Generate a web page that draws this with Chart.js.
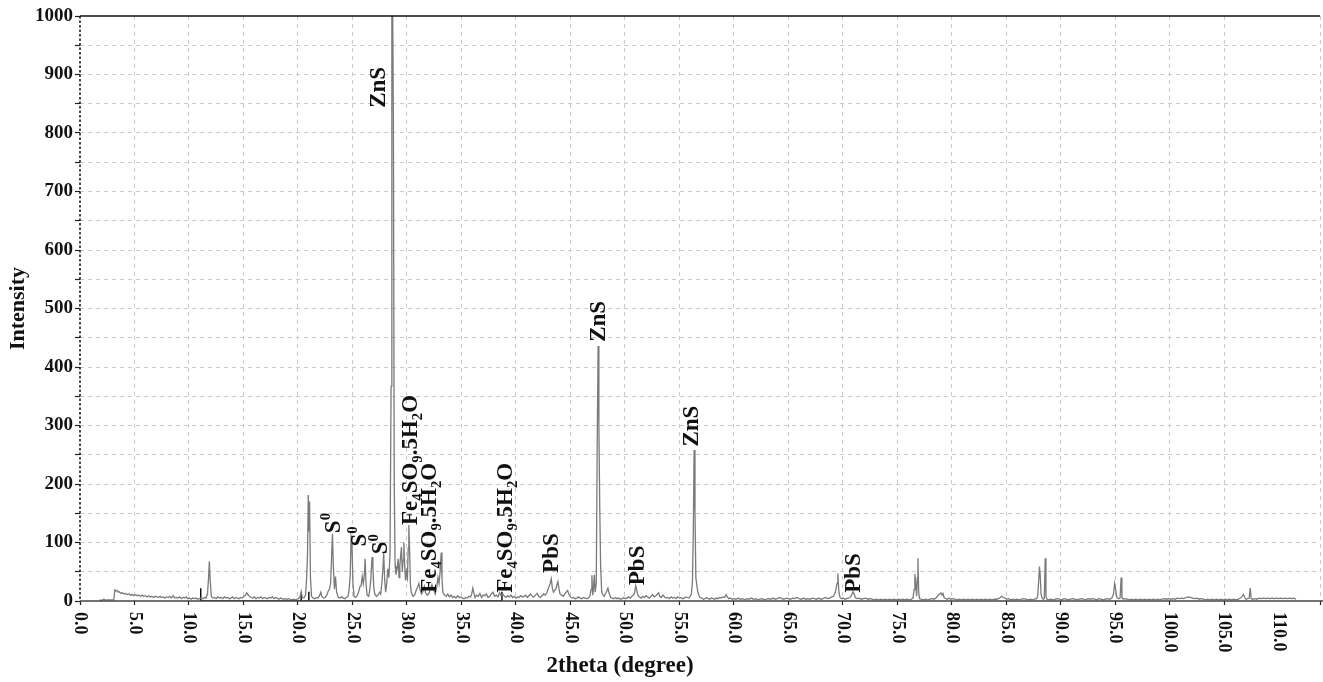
<!DOCTYPE html>
<html>
<head>
<meta charset="utf-8">
<title>XRD pattern</title>
<script src="https://cdn.jsdelivr.net/npm/chart.js@4/dist/chart.umd.min.js"></script>
<style>
  html, body { margin: 0; padding: 0; background: #ffffff; }
  canvas { display: block; }
</style>
</head>
<body>
<canvas id="xrd" width="1323" height="682"></canvas>
<script>
// Diffraction scan, [2theta (degree), intensity] pairs, split by angular range
const scanLowAngle = [
  [1.8,2],[2.0,1],[2.2,3],[2.4,1],[2.5,2],[3.1,2],
  [3.2,19],[3.3,17],[3.4,18],[3.5,15],[3.6,16],[3.75,13],[3.9,14],[4.05,12],[4.2,13],[4.35,11],
  [4.5,12],[4.65,10],[4.8,11],[4.95,9],[5.1,11],[5.25,9],[5.4,10],[5.55,8],[5.7,10],[5.85,8],
  [6.0,9],[6.15,7],[6.3,9],[6.45,7],[6.6,8],[6.75,6],[6.9,8],[7.05,7],[7.2,6],[7.35,8],[7.5,6],
  [7.65,7],[7.8,5],[7.95,7],[8.1,6],[8.25,8],[8.4,5],[8.55,9],[8.7,5],[8.85,6],[9.0,5],[9.15,7],
  [9.3,4],[9.45,6],[9.6,5],[9.75,7],[9.9,4],[10.05,5],[10.2,3],[10.35,5],[10.5,4],[10.65,5],
  [10.8,3],[10.95,4],[11.1,5],[11.25,4],[11.4,6],[11.55,5],[11.7,12],[11.8,40],[11.87,68],
  [11.95,35],[12.05,8],[12.2,5],[12.35,6],[12.5,4],[12.65,7],[12.8,5],[12.95,6],[13.1,4],
  [13.25,7],[13.4,5],[13.55,6],[13.7,4],[13.85,5],[14.0,7],[14.15,4],[14.3,6],[14.45,5],[14.6,4],
  [14.75,6],[14.9,5],[15.05,8],[15.2,10],[15.3,14],[15.4,11],[15.55,8],[15.7,6],[15.85,5],[16.0,7],
  [16.15,4],[16.3,6],[16.45,5],[16.6,7],[16.75,4],[16.9,6],[17.05,5],[17.2,4],[17.35,6],[17.5,5],
  [17.65,7],[17.8,4],[17.95,6],[18.1,5],[18.25,3],[18.4,5],[18.55,4],[18.7,3],[18.85,4],[19.0,3],
  [19.15,4],[19.3,3],[19.45,2],[19.6,3],[19.75,2],[19.9,3],[20.05,4],[20.2,8],[20.3,16],[20.4,6],
  [20.55,5],[20.7,10]
];

const scanSulfurRegion = [
  [20.8,40],[20.88,80],[20.95,181],[21.02,120],[21.07,170],[21.15,40],[21.25,8],[21.4,5],[21.55,4],
  [21.7,6],[21.85,5],[22.0,10],[22.1,15],[22.2,8],[22.35,5],[22.5,6],[22.65,10],[22.8,18],[22.9,20],
  [23.0,30],[23.1,80],[23.17,115],[23.25,60],[23.35,20],[23.45,42],[23.55,15],[23.7,6],[23.85,5],
  [24.0,7],[24.15,5],[24.3,4],[24.45,6],[24.6,8],[24.7,20],[24.8,45],[24.88,110],[24.95,105],
  [25.05,30],[25.15,8],[25.3,6],[25.45,9],[25.6,18],[25.7,25],[25.8,26],[25.9,42],[26.0,30],
  [26.1,45],[26.17,72],[26.25,30],[26.35,10],[26.5,8],[26.6,20],[26.7,40],[26.8,75],[26.88,60],
  [26.95,25],[27.05,12],[27.2,8],[27.35,10],[27.5,15],[27.6,12],[27.7,30],[27.8,55],[27.87,83],
  [27.95,40],[28.05,15],[28.15,30],[28.25,55],[28.35,40],[28.45,80],[28.55,367],[28.62,1000],
  [28.7,1000],[28.76,826],[28.84,200],[28.92,60],[29.0,45],[29.1,55],[29.2,72],[29.28,40],
  [29.35,60],[29.42,75],[29.5,92],[29.58,50],[29.65,70],[29.72,100],[29.8,60],[29.88,35],
  [29.95,50],[30.05,40],[30.12,90],[30.18,130],[30.25,85],[30.32,30],[30.4,15],[30.55,8],
  [30.7,10],[30.85,18],[31.0,25],[31.1,30],[31.2,20],[31.35,12],[31.5,18],[31.6,25],[31.7,15],
  [31.85,10],[32.0,12],[32.15,20],[32.3,28],[32.45,20],[32.6,12],[32.75,25],[32.85,40],[32.95,30],
  [33.05,50],[33.15,83],[33.22,40],[33.3,15],[33.45,10],[33.6,8],[33.75,12],[33.9,7],[34.05,10],
  [34.2,6],[34.35,8],[34.5,5],[34.65,9],[34.8,6],[34.95,7]
];

const scanMidAngle = [
  [35.1,5],[35.25,4],[35.4,6],[35.55,5],[35.7,8],[35.85,7],[35.95,12],[36.05,22],[36.15,14],
  [36.25,6],[36.4,10],[36.55,8],[36.7,13],[36.85,6],[37.0,10],[37.15,9],[37.3,12],[37.45,6],
  [37.6,8],[37.75,12],[37.9,15],[38.05,8],[38.2,10],[38.35,7],[38.5,14],[38.65,9],[38.8,12],
  [38.95,8],[39.1,6],[39.25,9],[39.4,7],[39.55,10],[39.7,6],[39.85,8],[40.0,5],[40.15,7],[40.3,6],
  [40.45,9],[40.6,7],[40.75,8],[40.9,10],[41.05,6],[41.2,9],[41.35,12],[41.5,8],[41.65,7],[41.8,10],
  [41.95,13],[42.1,8],[42.25,6],[42.4,9],[42.55,12],[42.7,10],[42.85,14],[42.95,20],[43.05,25],
  [43.15,30],[43.25,38],[43.35,22],[43.45,15],[43.55,18],[43.65,20],[43.75,26],[43.86,33],
  [43.95,22],[44.05,12],[44.2,10],[44.35,8],[44.5,12],[44.65,16],[44.75,18],[44.85,12],[45.0,7],
  [45.15,5],[45.3,6],[45.45,4],[45.6,5],[45.75,7],[45.9,5],[46.05,4],[46.2,6],[46.35,5],[46.5,4],
  [46.65,5],[46.8,8],[46.9,20],[46.98,44],[47.05,10],[47.12,20],[47.2,45],[47.28,15],[47.38,30],
  [47.47,278],[47.55,436],[47.62,300],[47.7,160],[47.78,60],[47.88,15],[48.0,10],[48.1,8],
  [48.2,12],[48.3,15],[48.45,22],[48.55,14],[48.7,6],[48.85,5],[49.0,4],[49.15,6],[49.3,4],
  [49.45,5],[49.6,3],[49.75,4],[49.9,6],[50.05,4],[50.2,5],[50.35,7],[50.5,5],[50.65,8],[50.8,10],
  [50.9,14],[51.0,26],[51.1,18],[51.2,10],[51.35,7],[51.5,5],[51.65,8],[51.8,6],[51.95,9],[52.1,7],
  [52.25,5],[52.4,8],[52.55,11],[52.7,7],[52.85,9],[53.0,12],[53.1,14],[53.2,8],[53.35,6],[53.5,10],
  [53.65,7],[53.8,5],[53.95,6],[54.1,4],[54.25,7],[54.4,5],[54.55,6],[54.7,4],[54.85,7],[55.0,5],
  [55.15,6],[55.3,4],[55.45,5],[55.6,7],[55.75,6],[55.9,5],[56.0,8],[56.1,12],[56.2,30],
  [56.28,108],[56.36,258],[56.44,152],[56.52,40],[56.6,28],[56.7,15],[56.8,10],[56.9,6],[57.05,5],
  [57.2,3],[57.35,4],[57.5,6],[57.65,4],[57.8,3],[57.95,5],[58.1,4],[58.25,3],[58.4,5],[58.55,4],
  [58.7,6],[58.85,5],[59.0,7],[59.15,6],[59.3,11],[59.4,7],[59.55,4],[59.7,5],[59.85,3]
];

const scanHighAngle = [
  [60.0,4],[60.2,3],[60.4,5],[60.6,3],[60.8,4],[61.0,2],[61.2,4],[61.4,3],[61.6,5],[61.8,3],[62.0,4],
  [62.2,2],[62.4,3],[62.6,4],[62.8,2],[63.0,3],[63.2,4],[63.4,3],[63.6,5],[63.8,3],[64.0,4],[64.2,6],
  [64.4,4],[64.6,3],[64.8,5],[65.0,4],[65.2,3],[65.4,5],[65.6,4],[65.8,6],[66.0,4],[66.2,3],[66.4,5],
  [66.6,3],[66.8,4],[67.0,3],[67.2,5],[67.4,4],[67.6,3],[67.8,5],[68.0,3],[68.2,4],[68.4,6],[68.6,4],
  [68.8,5],[69.0,7],[69.15,8],[69.3,14],[69.4,22],[69.48,30],[69.55,47],[69.65,15],[69.75,6],
  [69.9,4],[70.05,5],[70.2,3],[70.35,4],[70.5,5],[70.65,6],[70.75,8],[70.85,12],[70.95,16],
  [71.05,12],[71.15,6],[71.3,4],[71.5,5],[71.7,3],[71.9,4],[72.1,5],[72.3,3],[72.5,4],[72.7,3],
  [72.9,2],[73.1,3],[73.3,2],[73.5,3],[73.7,2],[73.9,3],[74.1,2],[74.3,3],[74.5,2],[74.7,3],[74.9,2],
  [75.1,3],[75.3,2],[75.5,3],[75.7,2],[75.9,3],[76.1,2],[76.3,3],[76.45,5],[76.55,20],[76.62,46],
  [76.7,30],[76.78,8],[76.85,40],[76.9,73],[76.97,15],[77.05,4],[77.2,3],[77.4,2],[77.6,3],[77.8,2],
  [78.0,3],[78.2,4],[78.4,3],[78.6,6],[78.75,10],[78.9,12],[79.0,14],[79.1,10],[79.2,13],[79.3,6],
  [79.45,4],[79.6,3],[79.75,5],[79.9,3],[80.1,4],[80.3,3],[80.5,2],[80.7,3],[80.9,2],[81.1,3],
  [81.3,2],[81.5,3],[81.7,2],[81.9,3],[82.1,2],[82.3,3],[82.5,2],[82.7,3],[82.9,2],[83.1,3],[83.3,2],
  [83.5,3],[83.7,2],[83.9,3],[84.1,3],[84.3,4],[84.45,6],[84.6,8],[84.75,6],[84.9,5],[85.05,3],
  [85.2,4],[85.4,2],[85.6,3],[85.8,2],[86.0,3],[86.2,2],[86.4,3],[86.6,4],[86.8,3],[87.0,2],[87.2,3],
  [87.4,2],[87.6,3],[87.8,4],[87.9,10],[88.0,40],[88.05,59],[88.12,45],[88.2,12],[88.3,5],[88.4,3],
  [88.5,4],[88.58,73],[88.65,8],[88.75,3],[88.9,2],[89.1,3],[89.3,2],[89.5,3],[89.7,4],[89.9,3],
  [90.1,2],[90.3,4],[90.5,3],[90.7,2],[90.9,3],[91.1,4],[91.3,3],[91.5,2],[91.7,3],[91.9,4],[92.1,3],
  [92.3,2],[92.5,4],[92.7,3],[92.9,4],[93.1,3],[93.3,2],[93.5,4],[93.7,3],[93.9,2],[94.1,3],[94.3,4],
  [94.5,3],[94.7,5],[94.85,12],[94.95,30],[95.05,20],[95.15,6],[95.3,4],[95.45,5],[95.55,40],
  [95.62,6],[95.75,3],[95.9,4],[96.1,3],[96.3,2],[96.5,3],[96.7,2],[96.9,3],[97.1,2],[97.3,3],
  [97.5,2],[97.7,3],[97.9,2],[98.1,3],[98.3,2],[98.5,3],[98.7,2],[98.9,3],[99.1,2],[99.3,3],[99.5,4],
  [99.7,3],[99.9,4],[100.1,3],[100.3,4],[100.5,3],[100.7,5],[100.9,4],[101.1,5],[101.3,4],[101.5,6],
  [101.7,7],[101.9,6],[102.1,5],[102.3,4],[102.5,5],[102.7,3],[102.9,4],[103.1,3],[103.3,2],
  [103.5,3],[103.7,2],[103.9,3],[104.1,2],[104.3,3],[104.5,2],[104.7,3],[104.9,2],[105.1,3],
  [105.3,2],[105.5,3],[105.7,2],[105.9,3],[106.1,2],[106.3,3],[106.5,5],[106.65,8],[106.77,11],
  [106.9,6],[107.0,3],[107.15,4],[107.3,5],[107.4,22],[107.48,4],[107.6,3],[107.8,4],[108.0,3],
  [108.2,5],[108.4,4],[108.6,5],[108.8,4],[109.0,5],[109.2,4],[109.4,5],[109.6,4],[109.8,5],
  [110.0,4],[110.2,5],[110.4,4],[110.6,5],[110.8,4],[111.0,5],[111.2,4],[111.4,5],[111.6,3]
];

// Reference line positions (black sticks)
const stickTwoTheta = [11.08, 20.3, 21.0, 38.72];
const stickIntensity = [22, 14, 16, 16];

// Axis tick labels
const xTickValues = [0, 5, 10, 15, 20, 25, 30, 35, 40, 45, 50, 55, 60, 65, 70, 75, 80, 85, 90, 95, 100, 105, 110];
const xTickLabels = ['0.0','5.0','10.0','15.0','20.0','25.0','30.0','35.0','40.0','45.0','50.0','55.0',
  '60.0','65.0','70.0','75.0','80.0','85.0','90.0','95.0','100.0','105.0','110.0'];
const yTickLabels = ['0','100','200','300','400','500','600','700','800','900','1000'];

// Phase assignments: '_' marks a subscript character, '^' a superscript character
const phaseNames = ['ZnS', 'S^0', 'S^0', 'S^0', 'Fe_4SO_9.5H_2O', 'Fe_4SO_9.5H_2O', 'Fe_4SO_9.5H_2O',
  'PbS', 'ZnS', 'PbS', 'ZnS', 'PbS'];
const phaseTwoTheta = [27.27, 23.1, 25.55, 27.48, 30.23, 31.97, 38.92, 43.14, 47.43, 51.04, 55.99, 70.89];
const phaseIntensity = [843, 116, 93, 80, 130, 14, 14, 48, 443, 27, 264, 14];

const SERIF = '"Liberation Serif", "Times New Roman", Times, serif';

const toPoints = rows => rows.map(r => ({ x: r[0], y: r[1] }));
const scanPoints = toPoints([].concat(scanLowAngle, scanSulfurRegion, scanMidAngle, scanHighAngle));

const stickPoints = [];
stickTwoTheta.forEach((t, i) => {
  stickPoints.push({ x: t, y: 0 }, { x: t, y: stickIntensity[i] }, { x: t, y: 0 });
});

// Rotated label with sub/superscripts, drawn upward from its anchor
function drawRichText(ctx, markup, size) {
  let pos = 0;
  const base = size * 0.34;
  for (let i = 0; i < markup.length; i++) {
    let ch = markup[i];
    let mode = 0;
    if ((ch === '_' || ch === '^') && i + 1 < markup.length) {
      mode = ch === '_' ? 1 : -1;
      ch = markup[++i];
    }
    const fs = mode ? size * 0.64 : size;
    ctx.font = 'bold ' + fs + 'px ' + SERIF;
    const dy = mode === 1 ? size * 0.2 : (mode === -1 ? -size * 0.4 : 0);
    ctx.fillText(ch, pos, base + dy);
    pos += ctx.measureText(ch).width;
  }
}

const frameAndLabels = {
  id: 'frameAndLabels',
  afterDraw(chart) {
    const { ctx, chartArea: a, scales: { x, y } } = chart;
    ctx.save();

    // top frame line
    ctx.strokeStyle = '#111';
    ctx.lineWidth = 1.5;
    ctx.beginPath();
    ctx.moveTo(a.left, a.top);
    ctx.lineTo(a.right, a.top);
    ctx.stroke();

    // x axis line
    ctx.strokeStyle = '#444';
    ctx.beginPath();
    ctx.moveTo(a.left, a.bottom);
    ctx.lineTo(chart.width, a.bottom);
    ctx.stroke();

    // dotted y axis line
    ctx.strokeStyle = '#111';
    ctx.setLineDash([2.5, 2]);
    ctx.beginPath();
    ctx.moveTo(a.left, a.top);
    ctx.lineTo(a.left, a.bottom);
    ctx.stroke();
    ctx.setLineDash([]);

    // x tick labels, turned clockwise
    ctx.fillStyle = '#111';
    ctx.font = 'bold 18px ' + SERIF;
    ctx.textAlign = 'left';
    ctx.textBaseline = 'middle';
    xTickValues.forEach((v, i) => {
      ctx.save();
      ctx.translate(x.getPixelForValue(v), a.bottom + 11);
      ctx.rotate(Math.PI / 2);
      ctx.fillText(xTickLabels[i], 0, 0);
      ctx.restore();
    });

    // axis titles
    ctx.font = 'bold 23px ' + SERIF;
    ctx.textAlign = 'center';
    ctx.textBaseline = 'middle';
    ctx.fillText('2theta (degree)', 620, 666);
    ctx.font = 'bold 22px ' + SERIF;
    ctx.save();
    ctx.translate(18, (a.top + a.bottom) / 2);
    ctx.rotate(-Math.PI / 2);
    ctx.fillText('Intensity', 0, 0);
    ctx.restore();

    // phase labels
    ctx.textAlign = 'left';
    ctx.textBaseline = 'alphabetic';
    phaseNames.forEach((name, i) => {
      ctx.save();
      ctx.translate(x.getPixelForValue(phaseTwoTheta[i]), y.getPixelForValue(phaseIntensity[i]));
      ctx.rotate(-Math.PI / 2);
      drawRichText(ctx, name, 23);
      ctx.restore();
    });

    ctx.restore();
  }
};

const gridColor = c => (c.tick && (c.tick.value === 0 || c.tick.value === 1000)) ? 'rgba(0,0,0,0)' : '#c9c9c9';

new Chart(document.getElementById('xrd'), {
  type: 'line',
  data: {
    datasets: [
      {
        label: 'Scan',
        data: scanPoints,
        borderColor: '#7a7a7a',
        borderWidth: 1.3,
        pointRadius: 0,
        tension: 0
      },
      {
        label: 'Reference lines',
        data: stickPoints,
        borderColor: '#111111',
        borderWidth: 1.5,
        pointRadius: 0,
        tension: 0
      }
    ]
  },
  options: {
    responsive: false,
    animation: false,
    devicePixelRatio: 1,
    layout: { padding: { top: 16, right: 3, bottom: 0, left: 0 } },
    plugins: { legend: { display: false }, tooltip: { enabled: false } },
    scales: {
      x: {
        type: 'linear',
        min: 0,
        max: 113.8,
        afterFit: s => { s.height = 81; },
        ticks: { display: false, stepSize: 5 },
        border: { display: false, dash: [4, 4] },
        grid: { color: gridColor, lineWidth: 1, tickColor: '#222', tickLength: 4, tickWidth: 1.2 }
      },
      y: {
        type: 'linear',
        min: 0,
        max: 1000,
        afterFit: s => { s.width = 80; },
        ticks: {
          stepSize: 50,
          padding: 2,
          color: '#111',
          font: { family: SERIF, size: 19, weight: 'bold' },
          callback: v => (v % 100 === 0 ? yTickLabels[v / 100] : '')
        },
        border: { display: false, dash: [4, 4] },
        grid: { color: gridColor, lineWidth: 1, tickColor: '#222', tickLength: 5, tickWidth: 1.2 }
      }
    }
  },
  plugins: [frameAndLabels]
});
</script>
</body>
</html>
